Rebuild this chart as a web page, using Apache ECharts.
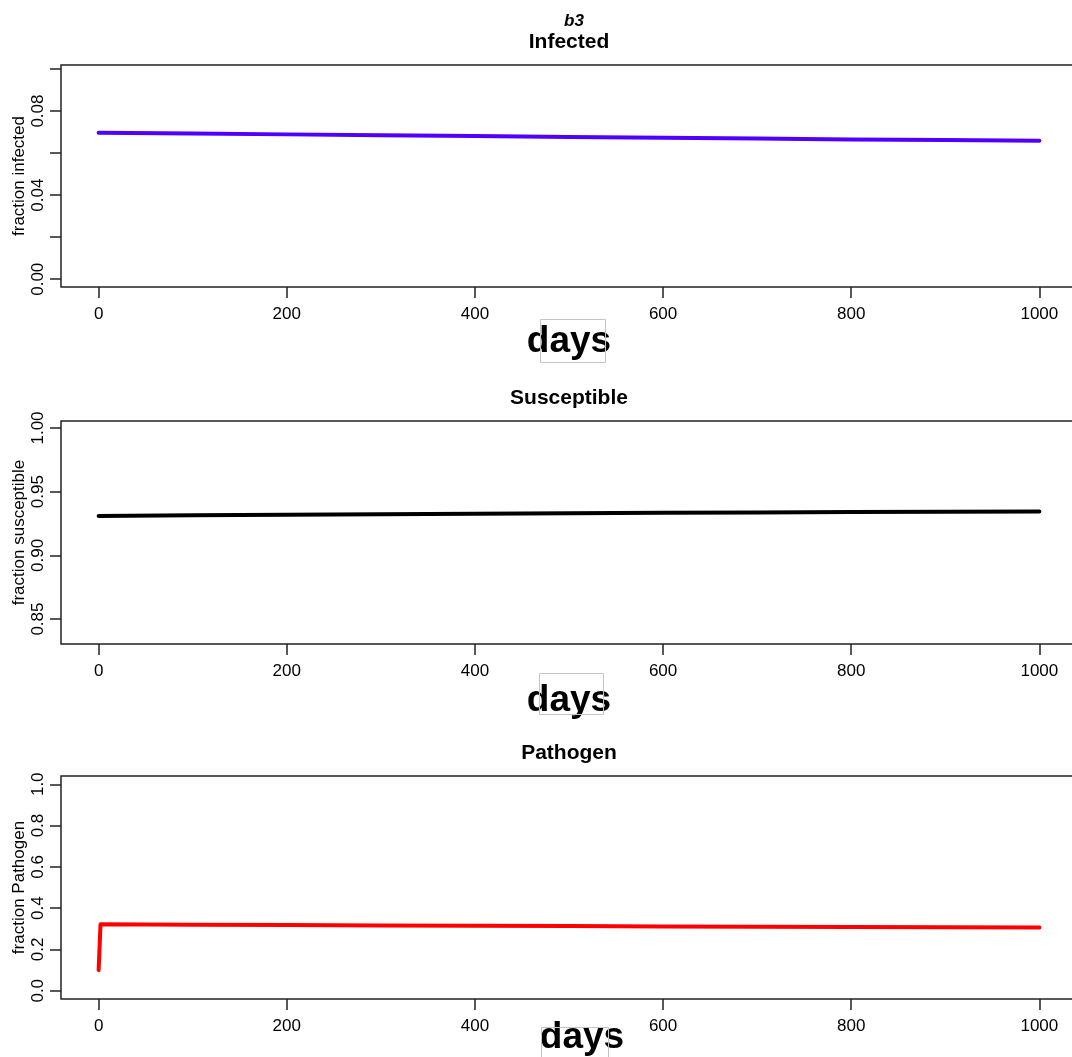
<!DOCTYPE html>
<html>
<head>
<meta charset="utf-8">
<script src="https://cdn.jsdelivr.net/npm/echarts@6/dist/echarts.min.js"></script>
<style>
  html, body { margin: 0; padding: 0; background: #fff; }
  #chart { width: 1072px; height: 1057px; }
</style>
</head>
<body>
<div id="chart"></div>
<script>
// Simulated epidemic fractions over time (days)
const days = [0, 100, 200, 300, 400, 500, 600, 700, 800, 900, 1000];
const infected = [0.0697, 0.0693, 0.0689, 0.0685, 0.0681, 0.0677, 0.0673, 0.0669, 0.0665, 0.0662, 0.0659];
const susceptible = [0.9310, 0.9314, 0.9318, 0.9322, 0.9326, 0.9330, 0.9334, 0.9337, 0.9340, 0.9343, 0.9345];
const pathogenDays = [0, 2, 100, 200, 300, 400, 500, 600, 700, 800, 900, 1000];
const pathogen = [0.10, 0.322, 0.320, 0.318, 0.316, 0.315, 0.313, 0.311, 0.310, 0.309, 0.307, 0.306];

// Tick positions / labels
const dayTicks = [0, 200, 400, 600, 800, 1000];
const infectedTicks = [0, 0.02, 0.04, 0.06, 0.08, 0.1];
const infectedLabels = [0, 0.04, 0.08];
const susceptibleTicks = [0.85, 0.9, 0.95, 1.0];
const pathogenTicks = [0, 0.2, 0.4, 0.6, 0.8, 1.0];

const FONT = '"Liberation Sans", Arial, Helvetica, sans-serif';

const panels = [
  { title: 'Infected', top: 65, height: 222, name: 'fraction infected',
    x: days, y: infected, color: '#5000FF',
    min: -0.0037, max: 0.1019, ticks: infectedTicks, labels: infectedLabels, digits: 2,
    daysGap: 36, daysShift: 0 },
  { title: 'Susceptible', top: 421, height: 223, name: 'fraction susceptible',
    x: days, y: susceptible, color: '#000000',
    min: 0.8304, max: 1.0055, ticks: susceptibleTicks, labels: susceptibleTicks, digits: 2,
    daysGap: 38, daysShift: 0 },
  { title: 'Pathogen', top: 776, height: 223, name: 'fraction Pathogen',
    x: pathogenDays, y: pathogen, color: '#FF0000',
    min: -0.04, max: 1.04, ticks: pathogenTicks, labels: pathogenTicks, digits: 1,
    daysGap: 20, daysShift: 26 }
];

const GRID_LEFT = 61;
const GRID_WIDTH = 1016;
const centerX = GRID_LEFT + GRID_WIDTH / 2;

const grid = [], xAxis = [], yAxis = [], series = [], graphic = [];

panels.forEach((p, i) => {
  grid.push({
    left: GRID_LEFT, top: p.top, width: GRID_WIDTH, height: p.height,
    containLabel: false, outerBoundsMode: 'none',
    show: true, borderColor: '#222', borderWidth: 1.5, backgroundColor: 'transparent'
  });
  xAxis.push({
    type: 'value', gridIndex: i, min: -40, max: 1040,
    name: 'days', nameLocation: 'middle', nameGap: p.daysGap, nameMoveOverlap: false,
    nameTextStyle: { fontFamily: FONT, fontSize: 37, fontWeight: 'bold', color: '#000',
                     padding: [0, 0, 0, p.daysShift] },
    axisLine: { show: false, onZero: false },
    axisTick: { show: true, inside: false, length: 11, customValues: dayTicks,
                lineStyle: { color: '#222', width: 1.5 } },
    axisLabel: { show: true, margin: 19, customValues: dayTicks,
                 fontFamily: FONT, fontSize: 17, color: '#000',
                 formatter: v => String(Math.round(v)) },
    splitLine: { show: false }
  });
  yAxis.push({
    type: 'value', gridIndex: i, min: p.min, max: p.max,
    name: p.name, nameLocation: 'middle', nameGap: 33, nameRotate: 90, nameMoveOverlap: false,
    nameTextStyle: { fontFamily: FONT, fontSize: 17, color: '#000' },
    axisLine: { show: false, onZero: false },
    axisTick: { show: true, inside: false, length: 11, customValues: p.ticks,
                lineStyle: { color: '#222', width: 1.5 } },
    axisLabel: { show: true, rotate: 90, margin: 14, customValues: p.labels,
                 fontFamily: FONT, fontSize: 17, color: '#000',
                 formatter: v => Number(v).toFixed(p.digits) },
    splitLine: { show: false }
  });
  series.push({
    type: 'line', xAxisIndex: i, yAxisIndex: i,
    data: p.x.map((d, k) => [d, p.y[k]]),
    symbol: 'none', smooth: false, silent: true,
    lineStyle: { color: p.color, width: 4, cap: 'round', join: 'round' }
  });
});

// Panel titles
graphic.push({ type: 'text', x: centerX + 5, y: 21,
  style: { text: 'b3', font: 'italic bold 17px ' + FONT, fill: '#000',
           textAlign: 'center', textVerticalAlign: 'middle' } });
[42, 398, 753].forEach((y, i) => {
  graphic.push({ type: 'text', x: centerX, y: y,
    style: { text: panels[i].title, font: 'bold 21px ' + FONT, fill: '#000',
             textAlign: 'center', textVerticalAlign: 'middle' } });
});

// Thin frames around the "days" labels
[[540, 319, 65, 43], [539, 673, 64, 41], [541, 1027, 67, 40]].forEach(r => {
  graphic.push({ type: 'rect', z: 100,
    shape: { x: r[0] + 0.5, y: r[1] + 0.5, width: r[2], height: r[3] },
    style: { fill: 'none', stroke: '#c4c4c4', lineWidth: 1 } });
});

const chart = echarts.init(document.getElementById('chart'), null, { renderer: 'canvas' });
chart.setOption({
  animation: false,
  backgroundColor: '#ffffff',
  grid, xAxis, yAxis, series, graphic
});
</script>
</body>
</html>
